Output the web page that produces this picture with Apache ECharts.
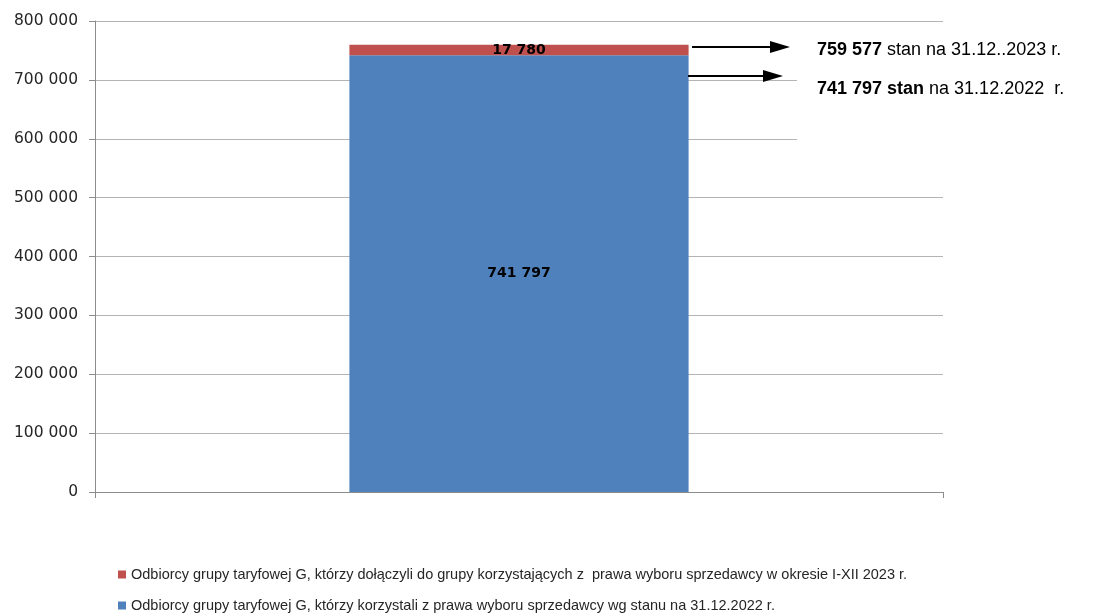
<!DOCTYPE html>
<html><head><meta charset="utf-8">
<script src="https://cdn.jsdelivr.net/npm/echarts@6/dist/echarts.min.js"></script>
<style>html,body{margin:0;padding:0;background:#fff}#c{width:1113px;height:615px}</style>
</head><body><div id="c"></div>
<script>
var categories = ['2023'];
var seriesNames = [
  'Odbiorcy grupy taryfowej G, którzy korzystali z prawa wyboru sprzedawcy wg stanu na 31.12.2022 r.',
  'Odbiorcy grupy taryfowej G, którzy dołączyli do grupy korzystających z  prawa wyboru sprzedawcy w okresie I-XII 2023 r.'
];
var base2022 = [741797];
var added2023 = [17780];
var yTicks = [0, 100000, 200000, 300000, 400000, 500000, 600000, 700000, 800000];
var annotations = [
  {bold: '759 577', rest: ' stan na 31.12..2023 r.', value: 755800},
  {bold: '741 797 stan', rest: ' na 31.12.2022  r.', value: 706500}
];

function fmt(v){ return String(v).replace(/\B(?=(\d{3})+(?!\d))/g, ' '); }

var chart = echarts.init(document.getElementById('c'));
var labelStyle = {show: true, position: 'inside', color: '#000', fontWeight: 'bold', fontSize: 14, fontFamily: 'DejaVu Sans',
  formatter: function(p){ return fmt(p.value); }};
var legendText = {fontSize: 14.5, color: '#262626', fontFamily: 'Liberation Sans'};
chart.setOption({
  animation: false,
  grid: {left: 95, right: 170, top: 21, bottom: 123},
  xAxis: {type: 'category', data: categories,
    axisLine: {lineStyle: {color: '#8c8c8c'}},
    axisTick: {show: true, length: 6, lineStyle: {color: '#8c8c8c'}},
    axisLabel: {show: false}},
  yAxis: {type: 'value', min: yTicks[0], max: yTicks[yTicks.length-1], interval: 100000,
    axisLine: {show: true, lineStyle: {color: '#8c8c8c'}},
    axisTick: {show: true, length: 6, lineStyle: {color: '#8c8c8c'}},
    splitLine: {lineStyle: {color: '#b4b4b4'}},
    axisLabel: {color: '#262626', fontSize: 15.5, fontFamily: 'DejaVu Sans', margin: 17, formatter: fmt}},
  legend: [
    {left: 113, top: 562, itemWidth: 8, itemHeight: 8, icon: 'rect', data: [seriesNames[1]], textStyle: legendText},
    {left: 113, top: 593, itemWidth: 8, itemHeight: 8, icon: 'rect', data: [seriesNames[0]], textStyle: legendText}
  ],
  series: [
    {name: seriesNames[0], type: 'bar', stack: 's', data: base2022, barWidth: '40%',
      itemStyle: {color: '#4f81bd'}, label: labelStyle},
    {name: seriesNames[1], type: 'bar', stack: 's', data: added2023, barWidth: '40%',
      itemStyle: {color: '#c0504d'}, label: labelStyle}
  ]
});

// annotations (arrows + text) placed using the chart's own y scale
var g = [];
g.push({type: 'rect', shape: {x: 797, y: 26, width: 150, height: 126}, style: {fill: '#fff'}, z: 50});
var barRight = 690;
annotations.forEach(function(a, i){
  var y = chart.convertToPixel({yAxisIndex: 0}, a.value);
  var x0 = barRight + (i === 0 ? 2 : -2);
  var x1 = (i === 0 ? 790 : 783);
  g.push({type: 'line', shape: {x1: x0, y1: y, x2: x1 - 18, y2: y}, style: {stroke: '#000', lineWidth: 2}, z: 60});
  g.push({type: 'polygon', shape: {points: [[x1 - 20, y - 6], [x1, y], [x1 - 20, y + 6]]}, style: {fill: '#000'}, z: 60});
});
var rich = {b: {fontWeight: 'bold', fontSize: 18, fontFamily: 'Liberation Sans', fill: '#000'}, n: {fontSize: 18, fontFamily: 'Liberation Sans', fill: '#000'}};
g.push({type: 'text', left: 817, top: 41, z: 60, style: {text: '{b|' + annotations[0].bold + '}{n|' + annotations[0].rest + '}', rich: rich}});
g.push({type: 'text', left: 817, top: 80, z: 60, style: {text: '{b|' + annotations[1].bold + '}{n|' + annotations[1].rest + '}', rich: rich}});
chart.setOption({graphic: g});
</script></body></html>
